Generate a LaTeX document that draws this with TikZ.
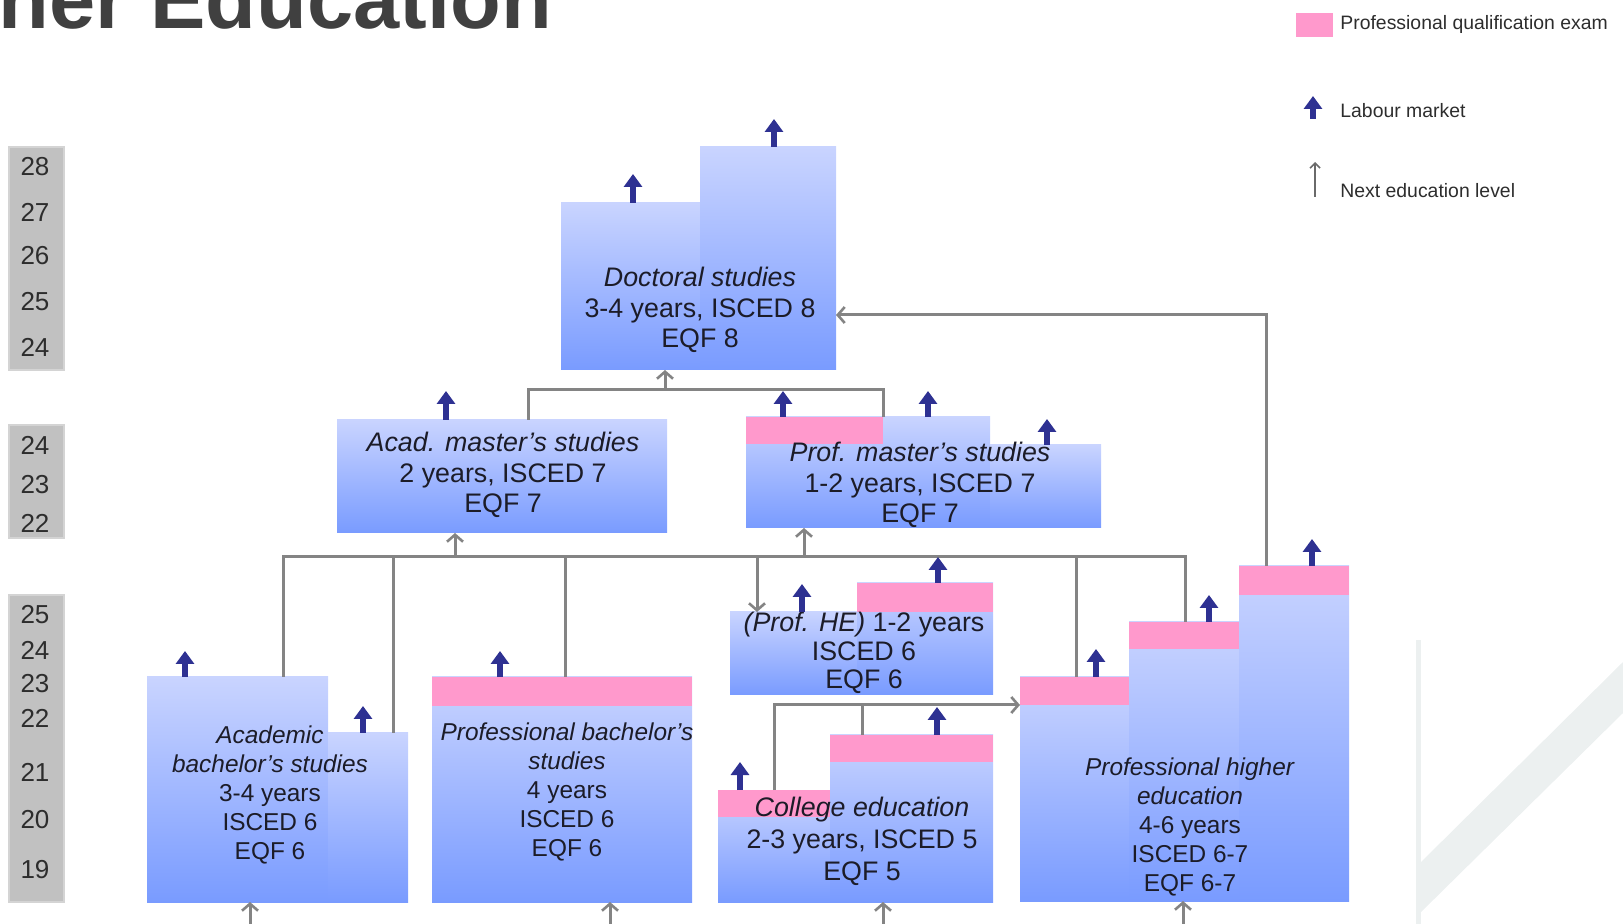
\documentclass[tikz,border=0pt]{standalone}
\usepackage{fontspec}
\setmainfont{Liberation Sans}
\usetikzlibrary{arrows.meta,fit}
\definecolor{bxtop}{RGB}{201,212,255}
\definecolor{bxbot}{RGB}{121,155,255}
\definecolor{bxedge}{RGB}{222,230,255}
\definecolor{examc}{RGB}{255,153,204}
\definecolor{lmc}{RGB}{46,49,146}
\definecolor{connc}{RGB}{132,132,132}
\definecolor{agebg}{RGB}{193,193,193}
\definecolor{ageedge}{RGB}{212,212,212}
\definecolor{agetxt}{RGB}{45,45,45}
\definecolor{decoc}{RGB}{236,240,240}
\definecolor{titlec}{RGB}{64,64,64}
\definecolor{txtc}{RGB}{28,28,40}
\definecolor{legc}{RGB}{45,45,45}
\begin{document}
\begin{tikzpicture}[x=0.5pt,y=-0.5pt,
  box/.style={rectangle, inner sep=0pt, outer sep=0pt, top color=bxtop, bottom color=bxbot, draw=none},
  exam/.style={rectangle, inner sep=0pt, outer sep=0pt, fill=examc, draw=none},
  agebox/.style={rectangle, inner sep=0pt, outer sep=0pt, fill=agebg, draw=ageedge, line width=0.8pt},
  conn/.style={draw=connc, line width=1.5pt},
  nextarr/.style={draw=connc, line width=1.5pt, -{Straight Barb[length=3.5pt,width=8pt,line width=1.3pt]}},
  legnext/.style={draw=connc!80!black, line width=0.8pt, -{Straight Barb[length=2.5pt,width=5pt,line width=0.8pt]}},
  labour/.style={draw=lmc, line width=3pt, -{Triangle[length=6.5pt,width=9pt]}},
  txt/.style={align=center, text=txtc, inner sep=0pt},
  big/.style={font=\fontsize{13.4}{15.3}\selectfont},
  small/.style={font=\fontsize{12.2}{14.6}\selectfont},
  age/.style={text=agetxt, font=\fontsize{13}{15}\selectfont, inner sep=0pt},
  legtxt/.style={text=legc, font=\fontsize{9.7}{11}\selectfont, inner sep=0pt, anchor=base west},
  ]
\useasboundingbox (0,0) rectangle (1623,924);

% decoration
\fill[decoc] (1416,640) rectangle (1421,924);
\fill[decoc] (1418,865) -- (1623,662) -- (1623,713) -- (1418,915) -- cycle;

% title
\node[anchor=base west, inner sep=0pt, text=titlec, font=\fontsize{41.5}{48}\selectfont\bfseries] (title) at (-2,29) {her Education};

% legend
\node[exam, fit={(1296,13) (1333,37)}] (lgexam) {};
\node[legtxt] (lgexamt) at (1340,30) {Professional qualification exam};
\draw[labour] (1313,119) -- (1313,96);
\node[legtxt] (lglmt) at (1340,118) {Labour market};
\draw[legnext] (1315,197) -- (1315,162);
\node[legtxt] (lgnt) at (1340,198) {Next education level};

% age columns
\node[agebox, fit={(9,147) (64,370)}] (agea) {};
\node[agebox, fit={(9,425) (64,538)}] (ageb) {};
\node[agebox, fit={(9,595) (64,902)}] (agec) {};
\node[age] (a28) at (35,167) {28};
\node[age] (a27) at (35,212) {27};
\node[age] (a26) at (35,256) {26};
\node[age] (a25) at (35,302) {25};
\node[age] (a24) at (35,347) {24};
\node[age] (b24) at (35,445) {24};
\node[age] (b23) at (35,485) {23};
\node[age] (b22) at (35,523) {22};
\node[age] (c25) at (35,615) {25};
\node[age] (c24) at (35,650) {24};
\node[age] (c23) at (35,684) {23};
\node[age] (c22) at (35,718) {22};
\node[age] (c21) at (35,772) {21};
\node[age] (c20) at (35,820) {20};
\node[age] (c19) at (35,870) {19};

% doctoral
\node[box, fit={(561,203) (700,370)}] (docL) {};
\node[box, fit={(700,147) (836,370)}] (docR) {};
% academic master
\node[box, fit={(337,420) (667,533)}] (acadm) {};
% professional master
\node[box, fit={(746,417) (990,528)}] (pmA) {};
\node[box, fit={(990,445) (1101,528)}] (pmB) {};
\node[exam, fit={(746,417) (883,444)}] (pmexam) {};
% academic bachelor
\node[box, fit={(147,677) (328,902)}] (acbL) {};
\node[box, fit={(328,733) (408,902)}] (acbR) {};
% professional bachelor
\node[box, fit={(432,677) (692,902)}] (pb) {};
\node[exam, fit={(432,677) (692,706)}] (pbexam) {};
% prof HE short
\node[box, fit={(730,612) (857,695)}] (pheL) {};
\node[box, fit={(857,583) (993,695)}] (pheR) {};
\node[exam, fit={(857,583) (993,612)}] (pheRexam) {};
% college
\node[box, fit={(718,790) (830,902)}] (colL) {};
\node[box, fit={(830,735) (993,902)}] (colR) {};
\node[exam, fit={(718,790) (830,817)}] (colLexam) {};
\node[exam, fit={(830,735) (993,762)}] (colRexam) {};
% professional higher education
\node[box, fit={(1020,677) (1129,901)}] (phL) {};
\node[box, fit={(1129,622) (1239,901)}] (phM) {};
\node[box, fit={(1239,566) (1349,901)}] (phR) {};
\node[exam, fit={(1020,677) (1129,705)}] (phLexam) {};
\node[exam, fit={(1129,622) (1239,649)}] (phMexam) {};
\node[exam, fit={(1239,566) (1349,595)}] (phRexam) {};

% texts
\node[txt, big] (doctxt) at (700,310) {\textit{Doctoral studies}\\3-4 years, ISCED 8\\EQF 8};
\node[txt, big] (acadmtxt) at (503,475) {\textit{Acad. master's studies}\\2 years, ISCED 7\\EQF 7};
\node[txt, big] (pmtxt) at (920,485) {\textit{Prof. master's studies}\\1-2 years, ISCED 7\\EQF 7};
\node[txt, small] (acbtxt) at (270,795) {\textit{Academic}\\\textit{bachelor's studies}\\3-4 years\\ISCED 6\\EQF 6};
\node[txt, small] (pbtxt) at (567,792) {\textit{Professional bachelor's}\\\textit{studies}\\4 years\\ISCED 6\\EQF 6};
\node[txt, font=\fontsize{13.4}{14.3}\selectfont] (phetxt) at (864,653) {\textit{(Prof. HE)} 1-2 years\\ISCED 6\\EQF 6};
\node[txt, font=\fontsize{13.4}{16}\selectfont] (coltxt) at (862,841) {\textit{College education}\\2-3 years, ISCED 5\\EQF 5};
\node[txt, small] (phtxt) at (1190,827) {\textit{Professional higher}\\\textit{education}\\4-6 years\\ISCED 6-7\\EQF 6-7};

% connectors: masters to doctoral
\coordinate (k1) at (528,390);
\coordinate (k2) at (665,390);
\draw[conn] (acadm.north -| k1) -- (k1) -| (pmexam.north east);
\draw[nextarr] (k2) -- (k2 |- docL.south);
\coordinate (k3) at (1266,315);
\draw[nextarr] (phRexam.north -| k3) -- (k3) -- (k3 -| docR.east);

% connectors: first cycle to masters
\coordinate (r1) at (283,557);
\coordinate (r2) at (1185,557);
\coordinate (r3) at (393,557);
\coordinate (r4) at (565,557);
\coordinate (r5) at (1076,557);
\coordinate (r6) at (757,557);
\coordinate (r7) at (455,557);
\coordinate (r8) at (804,557);
\draw[conn] (acbL.north -| r1) -- (r1) -- (r2) -- (r2 |- phMexam.north);
\draw[conn] (r3) -- (r3 |- acbR.north);
\draw[conn] (r4) -- (r4 |- pbexam.north);
\draw[conn] (r5) -- (r5 |- phLexam.north);
\draw[nextarr] (r6) -- (r6 |- pheL.north);
\draw[nextarr] (r7) -- (r7 |- acadm.south);
\draw[nextarr] (r8) -- (r8 |- pmA.south);

% college connectors
\coordinate (s1) at (774,705);
\coordinate (s2) at (862,705);
\draw[nextarr] (colLexam.north -| s1) -- (s1) -- (s1 -| phL.west);
\draw[conn] (s2) -- (s2 |- colRexam.north);

% entry arrows from below
\coordinate (e1) at (250,928);
\coordinate (e2) at (610,928);
\coordinate (e3) at (883,928);
\coordinate (e4) at (1183,928);
\draw[nextarr] (e1) -- (e1 |- acbL.south);
\draw[nextarr] (e2) -- (e2 |- pb.south);
\draw[nextarr] (e3) -- (e3 |- colR.south);
\draw[nextarr] (e4) -- (e4 |- phM.south);

% labour market arrows
\draw[labour] (633,203) -- (633,174);
\draw[labour] (774,147) -- (774,119);
\draw[labour] (446,420) -- (446,391);
\draw[labour] (783,417) -- (783,391);
\draw[labour] (928,417) -- (928,391);
\draw[labour] (1047,445) -- (1047,419);
\draw[labour] (185,677) -- (185,651);
\draw[labour] (363,733) -- (363,706);
\draw[labour] (500,677) -- (500,651);
\draw[labour] (802,612) -- (802,584);
\draw[labour] (938,583) -- (938,557);
\draw[labour] (740,790) -- (740,762);
\draw[labour] (937,735) -- (937,707);
\draw[labour] (1096,677) -- (1096,649);
\draw[labour] (1209,622) -- (1209,595);
\draw[labour] (1312,566) -- (1312,539);
\end{tikzpicture}
\end{document}
